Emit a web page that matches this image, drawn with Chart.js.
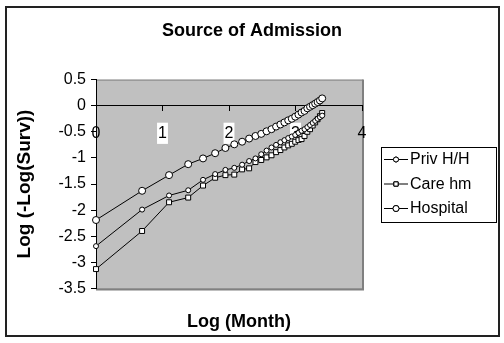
<!DOCTYPE html>
<html>
<head>
<meta charset="utf-8">
<script src="https://cdn.jsdelivr.net/npm/chart.js@4/dist/chart.umd.min.js"></script>
<style>
  html, body { margin: 0; padding: 0; background: #fff; }
  canvas { display: block; }
</style>
</head>
<body>
<canvas id="survChart" width="504" height="343"></canvas>
<script>
// months 1..30, plotted on a log scale
const months = [1, 2, 3, 4, 5, 6, 7, 8, 9, 10, 11, 12, 13, 14, 15,
                16, 17, 18, 19, 20, 21, 22, 23, 24, 25, 26, 27, 28, 29, 30];

// log(-log(survival)) by source of admission
const privHH = [-2.69, -1.99, -1.72, -1.62, -1.42, -1.31, -1.23, -1.19, -1.13, -1.06,
                -1.01, -0.93, -0.86, -0.80, -0.75, -0.70, -0.66, -0.62, -0.59, -0.56,
                -0.52, -0.48, -0.45, -0.41, -0.37, -0.33, -0.29, -0.25, -0.22, -0.19];
const careHm = [-3.13, -2.40, -1.85, -1.76, -1.53, -1.38, -1.33, -1.32, -1.22, -1.20,
                -1.08, -1.04, -0.99, -0.95, -0.89, -0.85, -0.80, -0.76, -0.73, -0.69,
                -0.66, -0.64, -0.58, -0.50, -0.45, -0.38, -0.32, -0.26, -0.20, -0.14];
const hospital = [-2.19, -1.63, -1.33, -1.12, -1.01, -0.91, -0.81, -0.74, -0.69, -0.63,
                  -0.58, -0.54, -0.49, -0.45, -0.40, -0.36, -0.32, -0.28, -0.25, -0.21,
                  -0.17, -0.13, -0.10, -0.05, -0.02, 0.01, 0.04, 0.07, 0.10, 0.14];

const seriesNames = ['Priv H/H', 'Care hm', 'Hospital'];
const xTicks = [0, 1, 2, 3, 4];
const yTicks = [0.5, 0, -0.5, -1, -1.5, -2, -2.5, -3, -3.5];

const FONT = "'Liberation Sans', Arial, sans-serif";

function toPoints(values) {
    return values.map((v, i) => ({ x: Math.log(months[i]), y: v }));
}

function seriesStyle(label, values, pointStyle, radius) {
    return {
        label: label,
        data: toPoints(values),
        showLine: true,
        borderColor: '#000',
        borderWidth: 1,
        pointStyle: pointStyle,
        pointRadius: radius,
        pointBackgroundColor: '#fff',
        pointBorderColor: '#000',
        pointBorderWidth: 1,
        clip: false
    };
}

// grey plot area and the outer frame
const frame = {
    id: 'frame',
    afterLayout(chart) {
        // the month title sits a little right of the plot centre
        chart.scales.x2.left += 20;
    },
    beforeDraw(chart) {
        const { ctx, chartArea: a } = chart;
        ctx.save();
        ctx.fillStyle = '#c0c0c0';
        ctx.fillRect(a.left, a.top, a.right - a.left, a.bottom - a.top);
        ctx.strokeStyle = '#808080';
        ctx.lineWidth = 2;
        ctx.beginPath();
        ctx.moveTo(a.right + 1, a.top);
        ctx.lineTo(a.right + 1, a.bottom + 1);
        ctx.lineTo(a.left, a.bottom + 1);
        ctx.stroke();
        ctx.lineWidth = 1;
        ctx.strokeRect(a.left + 0.5, a.top + 0.5, a.right - a.left, a.bottom - a.top);
        ctx.strokeStyle = '#222';
        ctx.lineWidth = 2;
        ctx.strokeRect(6, 7, 493, 329);
        ctx.restore();
    }
};

// boxed legend with a line sample through each marker
const boxLegend = {
    id: 'boxLegend',
    afterDraw(chart) {
        const ctx = chart.ctx;
        const left = 381, top = 147, w = 115, h = 75;
        ctx.save();
        ctx.fillStyle = '#fff';
        ctx.fillRect(left, top, w, h);
        ctx.strokeStyle = '#000';
        ctx.lineWidth = 1;
        ctx.strokeRect(left + 0.5, top + 0.5, w, h);
        ctx.font = '16px ' + FONT;
        ctx.textBaseline = 'middle';
        chart.data.datasets.forEach((ds, i) => {
            const y = top + 12 + i * 24.5;
            ctx.strokeStyle = '#000';
            ctx.beginPath();
            ctx.moveTo(left + 3, y + 0.5);
            ctx.lineTo(left + 27, y + 0.5);
            ctx.stroke();
            Chart.helpers.drawPoint(ctx, {
                pointStyle: ds.pointStyle,
                radius: Math.min(ds.pointRadius, 3),
                borderWidth: 1
            }, left + 15, y + 0.5);
            ctx.fillStyle = '#fff';
            ctx.fill();
            ctx.stroke();
            ctx.fillStyle = '#000';
            ctx.fillText(ds.label, left + 29, y + 1);
        });
        ctx.restore();
    }
};

new Chart(document.getElementById('survChart').getContext('2d'), {
    type: 'scatter',
    data: {
        datasets: [
            seriesStyle(seriesNames[0], privHH, 'circle', 2.5),
            seriesStyle(seriesNames[1], careHm, 'rect', 3.5),
            seriesStyle(seriesNames[2], hospital, 'circle', 3.5)
        ]
    },
    options: {
        responsive: false,
        animation: false,
        layout: { padding: 0 },
        scales: {
            x: {
                type: 'linear',
                position: { y: 0 },
                min: xTicks[0],
                max: xTicks[xTicks.length - 1],
                afterBuildTicks: scale => { scale.ticks = xTicks.map(v => ({ value: v })); },
                grid: { drawOnChartArea: false, tickLength: 5, color: '#000' },
                border: { color: '#000', width: 1 },
                ticks: {
                    color: '#000',
                    font: { family: FONT, size: 16 },
                    padding: 13,
                    showLabelBackdrop: c => c.tick && c.tick.value > 0 && c.tick.value < 4,
                    backdropColor: '#fff',
                    backdropPadding: { x: 1, y: 1 }
                }
            },
            x2: {
                type: 'linear',
                position: 'bottom',
                min: xTicks[0],
                max: xTicks[xTicks.length - 1],
                grid: { display: false, drawTicks: false },
                border: { display: false },
                ticks: { display: false },
                title: {
                    display: true,
                    text: 'Log (Month)',
                    color: '#000',
                    font: { family: FONT, size: 18, weight: 'bold' },
                    padding: { top: 23, bottom: 10 }
                }
            },
            y: {
                type: 'linear',
                position: 'left',
                min: yTicks[yTicks.length - 1],
                max: yTicks[0],
                afterBuildTicks: scale => { scale.ticks = yTicks.map(v => ({ value: v })); },
                afterFit: scale => { scale.width = 96; },
                grid: { drawOnChartArea: false, tickLength: 5, color: '#000' },
                border: { color: '#000', width: 1 },
                ticks: {
                    color: '#000',
                    font: { family: FONT, size: 16 },
                    padding: 5,
                    callback: value => String(value)
                },
                title: {
                    display: true,
                    text: 'Log (-Log(Surv))',
                    color: '#000',
                    font: { family: FONT, size: 19, weight: 'bold' },
                    padding: { top: 13, bottom: 0 }
                }
            },
            // empty right-hand axis that reserves room for the legend box
            yLegend: {
                type: 'linear',
                position: 'right',
                display: true,
                afterFit: scale => { scale.width = 142; },
                grid: { display: false, drawTicks: false },
                border: { display: false },
                ticks: { display: false }
            }
        },
        plugins: {
            legend: { display: false },
            tooltip: { enabled: false },
            title: {
                display: true,
                text: 'Source of Admission',
                color: '#000',
                font: { family: FONT, size: 18, weight: 'bold' },
                padding: { top: 20, bottom: 38 }
            }
        }
    },
    plugins: [frame, boxLegend]
});
</script>
</body>
</html>
